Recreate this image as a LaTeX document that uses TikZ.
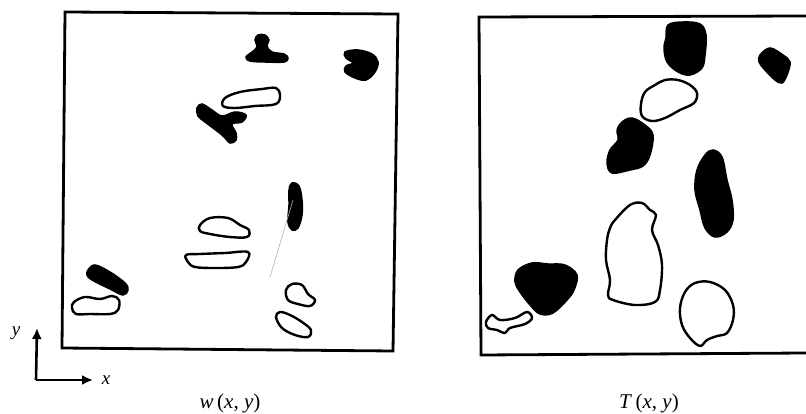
\documentclass[tikz,border=0pt]{standalone}
\usepackage{fontspec}
\setmainfont{Liberation Serif}
\usetikzlibrary{arrows.meta}
\tikzset{
  frame/.style={line width=2.8pt},
  solidblob/.style={fill=black, draw=black, line width=1.5pt, smooth cycle, tension=0.6},
  hollowblob/.style={draw=black, line width=2.4pt, smooth cycle, tension=0.6},
  axis/.style={line width=2.6pt, -{Latex[length=11pt,width=10pt]}},
  lbl/.style={font=\fontsize{21}{24}\selectfont},
  axlbl/.style={font=\fontsize{19}{22}\selectfont}
}
\begin{document}
\begin{tikzpicture}[x=1pt, y=-1pt]
  \useasboundingbox (0,0) rectangle (806,414);
  % left panel
  \draw[frame] (65,12) -- (398,14) -- (393,351) -- (62,348) -- cycle;
  \draw[solidblob] plot coordinates {(255,40) (258,35) (265,35) (269,40) (267,46) (272,52) (284,54) (288,58) (284,62) (265,62) (250,61) (246,57) (252,52) (257,47)};
  \draw[solidblob] plot coordinates {(345,52) (358,50) (372,54) (378,62) (375,72) (366,80) (355,78) (345,72) (346,66) (353,63) (346,58)};
  \draw[hollowblob] plot coordinates {(225,98) (240,92) (262,89) (276,88) (280,95) (276,104) (255,106) (235,108) (223,106)};
  \draw[solidblob] plot coordinates {(197,108) (202,104) (212,110) (222,116) (235,112) (246,115) (242,122) (232,124) (236,133) (236,140) (230,143) (222,135) (205,122) (198,116)};
  \draw[solidblob] plot coordinates {(292,183) (299,186) (302,200) (302,215) (298,228) (292,230) (288,222) (289,205) (289,190)};
  \draw[gray!60, line width=0.6pt] (293,200) -- (270,277);
  \draw[hollowblob] plot coordinates {(200,225) (210,218) (228,218) (240,225) (249,230) (247,237) (230,237) (210,234) (200,231)};
  \draw[hollowblob] plot coordinates {(186,255) (200,254) (225,253) (248,252) (246,262) (238,267) (215,268) (195,267) (188,262)};
  \draw[solidblob] plot coordinates {(88,270) (95,265) (110,272) (125,283) (128,290) (123,295) (110,289) (92,280) (87,275)};
  \draw[hollowblob] plot coordinates {(74,302) (85,297) (100,299) (112,296) (119,300) (118,310) (110,314) (90,314) (76,314) (72,308)};
  \draw[hollowblob] plot coordinates {(286,290) (292,284) (302,285) (308,294) (315,300) (310,306) (298,304) (288,300)};
  \draw[hollowblob] plot coordinates {(276,317) (280,312) (290,315) (302,322) (311,330) (308,337) (295,335) (282,328)};
  % right panel
  \draw[frame] (806,16) -- (479,17) -- (481,355) -- (806,353);
  \draw[solidblob] plot coordinates {(668,25) (683,22) (700,24) (706,35) (705,55) (702,68) (690,75) (678,72) (667,62) (664,48) (666,38)};
  \draw[solidblob] plot coordinates {(760,55) (770,48) (783,55) (790,62) (787,75) (782,83) (775,80) (765,70) (759,62)};
  \draw[hollowblob] plot coordinates {(645,92) (655,85) (665,80) (678,80) (690,85) (697,93) (694,103) (680,110) (665,118) (652,121) (642,116) (641,104)};
  \draw[solidblob] plot coordinates {(622,122) (632,118) (645,125) (653,135) (650,155) (643,166) (630,170) (612,173) (607,163) (610,150) (618,140) (617,130)};
  \draw[solidblob] plot coordinates {(705,155) (713,150) (722,157) (727,180) (732,200) (733,220) (727,232) (715,237) (705,228) (700,210) (695,190) (697,170)};
  \draw[hollowblob] plot coordinates {(615,220) (630,205) (642,203) (650,210) (656,215) (652,230) (658,245) (662,265) (660,290) (655,302) (635,305) (613,300) (608,295) (610,280) (606,260) (607,240) (610,228)};
  \draw[solidblob] plot coordinates {(518,270) (532,263) (548,264) (565,265) (577,275) (574,290) (567,300) (553,313) (540,314) (530,305) (520,292) (515,282)};
  \draw[hollowblob] plot coordinates {(486,322) (492,315) (500,320) (515,318) (527,312) (532,318) (525,324) (510,328) (505,333) (497,330) (488,328)};
  \draw[hollowblob] plot coordinates {(685,292) (695,283) (710,282) (725,290) (733,305) (733,320) (727,333) (717,336) (707,340) (700,346) (690,338) (682,325) (680,308)};
  % axes
  \coordinate (O) at (36,380);
  \node[axlbl] (Y) at (16,333) {\textit{y}};
  \node[axlbl] (X) at (106,380) {\textit{x}};
  \draw[axis] (O) -- (37,328) coordinate (Ytip);
  \draw[axis] (O) -- (93,380) coordinate (Xtip);
  \node[lbl] (W) at (230,403) {\textit{w}\,(\textit{x}, \textit{y})};
  \node[lbl] (T) at (649,403) {\textit{T}\,(\textit{x}, \textit{y})};
\end{tikzpicture}
\end{document}
